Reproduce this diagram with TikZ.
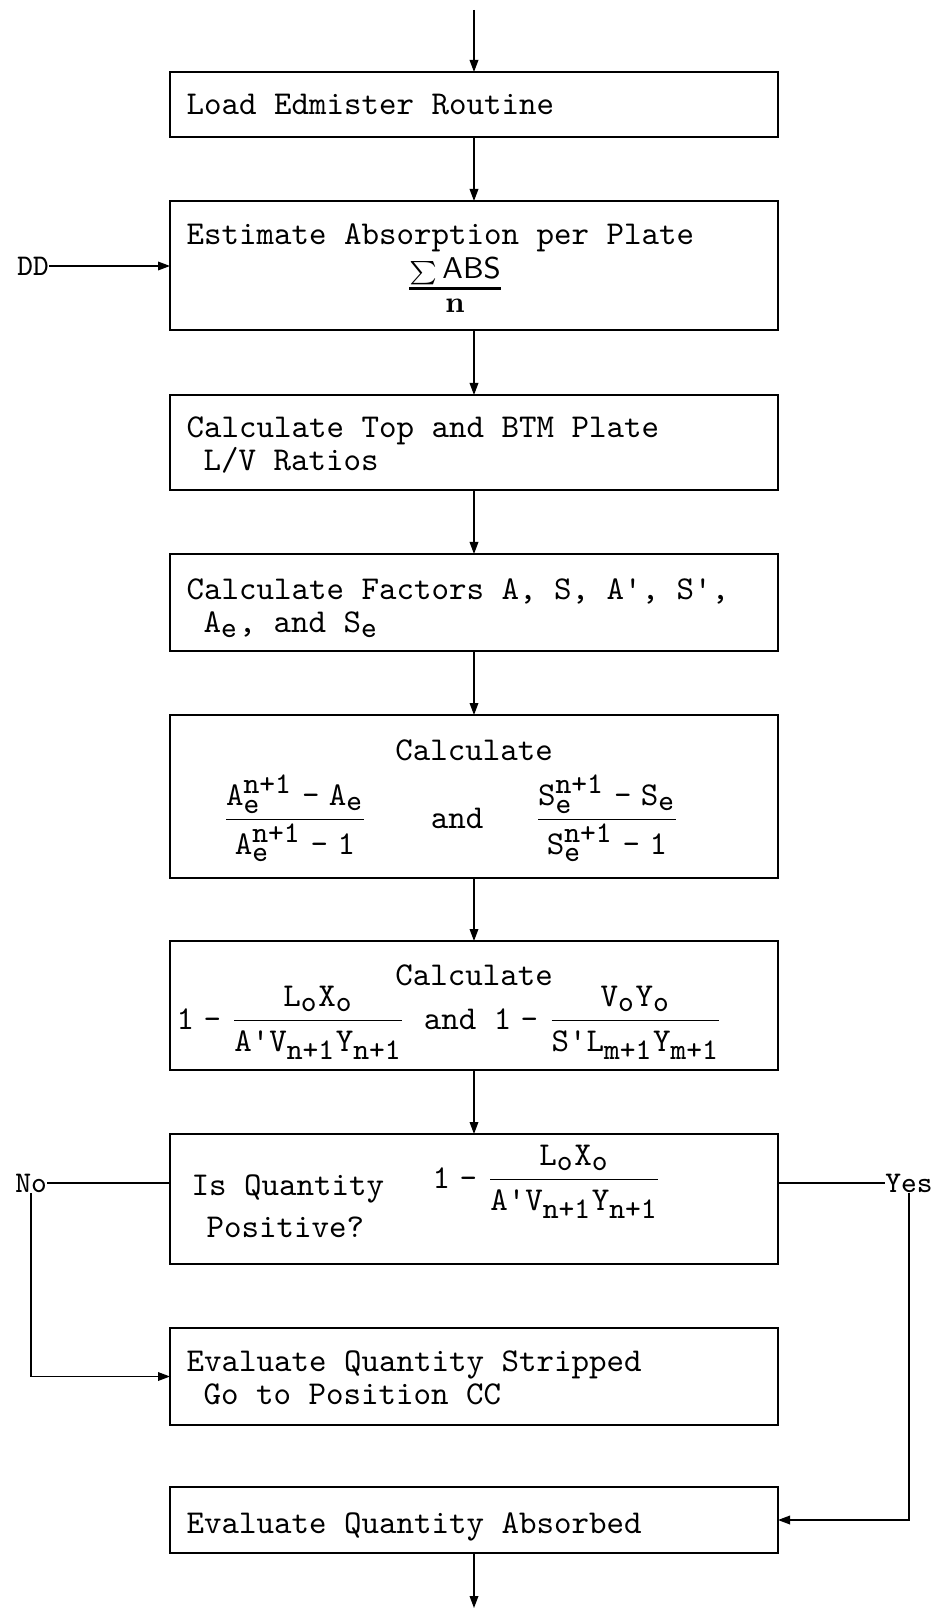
\documentclass[tikz,border=0pt]{standalone}
\usepackage{amsmath}
\usetikzlibrary{arrows.meta}
\DeclareMathSizes{10}{10}{9}{7}
\newcommand{\tm}[1]{\mathtt{#1}}
\newcommand{\tx}[1]{\text{\ttfamily #1}}
\newcommand{\apos}{\text{\ttfamily '}}
\newcommand{\mi}{\mathbin{\hspace{0.6pt}\text{\ttfamily -}\hspace{0.6pt}}}
\begin{document}
\begin{tikzpicture}[x=0.3pt,y=-0.3pt,
  box/.style={draw, line width=0.8pt, minimum width=182.4pt, inner sep=0pt, outer sep=0pt, anchor=north west},
  txt/.style={font=\ttfamily, anchor=base west, inner sep=0pt},
  ctxt/.style={font=\ttfamily, anchor=base, inner sep=0pt},
  frm/.style={inner sep=0pt, anchor=base},
  side/.style={font=\ttfamily\small, inner sep=0pt},
  conn/.style={draw, line width=0.4pt},
  arr/.style={draw, line width=0.4pt, -{Triangle[length=3.6pt,width=2.6pt]}}]
\useasboundingbox (0,0) rectangle (937,1617);

% boxes
\node[box, minimum height=19.5pt] (b1) at (170,72) {};
\node[box, minimum height=38.7pt] (b2) at (170,201) {};
\node[box, minimum height=28.5pt] (b3) at (170,395) {};
\node[box, minimum height=29.1pt] (b4) at (170,554) {};
\node[box, minimum height=48.9pt] (b5) at (170,715) {};
\node[box, minimum height=38.7pt] (b6) at (170,941) {};
\node[box, minimum height=39pt] (b7) at (170,1134) {};
\node[box, minimum height=29.1pt] (b8) at (170,1328) {};
\node[box, minimum height=19.8pt] (b9) at (170,1487) {};

% texts
\node[txt] (t1) at (186,115) {Load Edmister Routine};
\node[txt] (t2) at (186,245) {Estimate Absorption per Plate};
\node[frm] (f2) at (455,297) {$\genfrac{}{}{0.8pt}{1}{\text{\scriptsize$\textstyle\sum$}\,\textsf{ABS}}{\rule{0pt}{6pt}\textbf{n}}$};
\node[txt] (t3a) at (186,438) {Calculate Top and BTM Plate};
\node[txt] (t3b) at (203,471) {L/V Ratios};
\node[txt] (t4a) at (186,599) {Calculate Factors A, S, A', S',};
\node[txt] (t4b) at (203,632) {A$_{\tx{e}}$, and S$_{\tx{e}}$};
\node[ctxt] (t5) at (474,760) {Calculate};
\node[frm] (f5a) at (295,828) {$\dfrac{\tm{A}_{\tx{e}}^{\tx{n+1}} \mi \tm{A}_{\tx{e}}}{\tm{A}_{\tx{e}}^{\tx{n+1}} \mi \tm{1}}$};
\node[frm, font=\ttfamily] (f5b) at (457,828) {and};
\node[frm] (f5c) at (607,828) {$\dfrac{\tm{S}_{\tx{e}}^{\tx{n+1}} \mi \tm{S}_{\tx{e}}}{\tm{S}_{\tx{e}}^{\tx{n+1}} \mi \tm{1}}$};
\node[ctxt] (t6) at (474,985) {Calculate};
\node[frm, anchor=base west] (f6) at (176,1029) {$\tm{1} \mi \dfrac{\tm{L}_{\tx{o}}\tm{X}_{\tx{o}}}{\tm{A}\apos\tm{V}_{\tx{n+1}}\tm{Y}_{\tx{n+1}}}$\texttt{ and }$\tm{1} \mi \dfrac{\tm{V}_{\tx{o}}\tm{Y}_{\tx{o}}}{\tm{S}\apos\tm{L}_{\tx{m+1}}\tm{Y}_{\tx{m+1}}}$};
\node[txt] (t7a) at (191,1195) {Is Quantity};
\node[frm, anchor=base west] (f7) at (432,1188) {$\tm{1} \mi \dfrac{\tm{L}_{\tx{o}}\tm{X}_{\tx{o}}}{\tm{A}\apos\tm{V}_{\tx{n+1}}\tm{Y}_{\tx{n+1}}}$};
\node[txt] (t7b) at (206,1237) {Positive?};
\node[txt] (t8a) at (186,1371) {Evaluate Quantity Stripped};
\node[txt] (t8b) at (203,1404) {Go to Position CC};
\node[txt] (t9) at (186,1533) {Evaluate Quantity Absorbed};

% side labels
\node[side] (DD) at (33,266) {DD};
\node[side] (No) at (31,1183) {No};
\node[side] (Yes) at (909,1183) {Yes};

\coordinate (top) at (474,10);
\coordinate (bot) at (474,1608);

% connectors
\draw[arr] (b1.north |- top) -- (b1.north);
\draw[arr] (b1.south) -- (b2.north);
\draw[arr] (b2.south) -- (b3.north);
\draw[arr] (b3.south) -- (b4.north);
\draw[arr] (b4.south) -- (b5.north);
\draw[arr] (b5.south) -- (b6.north);
\draw[arr] (b6.south) -- (b7.north);
\draw[arr] (b9.south) -- (b9.south |- bot);
\draw[arr] (DD.east) -- (DD.east -| b2.west);
\draw[conn] (No.east) -- (No.east -| b7.west);
\draw[arr] (No.south) |- (b8.west);
\draw[conn] (b7.east |- Yes.west) -- (Yes.west);
\draw[arr] (Yes.south) |- (b9.east);
\end{tikzpicture}
\end{document}
